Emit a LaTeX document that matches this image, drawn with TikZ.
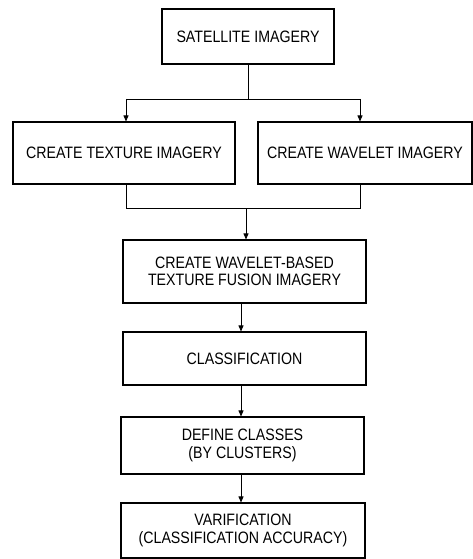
\documentclass[tikz,border=0pt]{standalone}
\usepackage{fontspec}
\setmainfont{Liberation Sans}[FakeStretch=0.86]
\usetikzlibrary{arrows.meta}
\tikzset{
  box/.style={draw=black, line width=1.1pt, inner sep=0pt, align=center,
    font=\fontsize{16.5}{17.5}\selectfont},
  conn/.style={draw=black, line width=0.8pt},
  arr/.style={conn, -{Triangle[length=6pt,width=5pt]}}
}
\begin{document}
\begin{tikzpicture}[x=1pt, y=-1pt]
\useasboundingbox (0,0) rectangle (473,559);
\node[box, minimum width=172pt, minimum height=55pt] (sat) at (248,36.5) {SATELLITE IMAGERY};
\node[box, minimum width=222pt, minimum height=62pt] (tex) at (124,153) {CREATE TEXTURE IMAGERY};
\node[box, minimum width=214pt, minimum height=62pt] (wav) at (365,153) {CREATE WAVELET IMAGERY};
\node[box, minimum width=243pt, minimum height=63pt] (fus) at (244.5,271.5) {CREATE WAVELET-BASED\\TEXTURE FUSION IMAGERY};
\node[box, minimum width=243pt, minimum height=53pt] (cls) at (244.5,358.5) {CLASSIFICATION};
\node[box, minimum width=243pt, minimum height=57pt] (def) at (242.5,445.5) {DEFINE CLASSES\\(BY CLUSTERS)};
\node[box, minimum width=244pt, minimum height=55pt] (var) at (243,530.5) {VARIFICATION\\(CLASSIFICATION ACCURACY)};
\coordinate (split) at (248,99);
\coordinate (lx) at (126,0);
\coordinate (rx) at (360,0);
\coordinate (join) at (246,208);
\coordinate (mx) at (241,0);
\draw[conn] (sat.south) -- (split);
\draw[conn] (split -| lx) -- (split -| rx);
\draw[arr] (split -| lx) -- (tex.north -| lx);
\draw[arr] (split -| rx) -- (wav.north -| rx);
\draw[conn] (tex.south -| lx) -- (join -| lx) -- (join -| rx) -- (wav.south -| rx);
\draw[arr] (join) -- (fus.north -| join);
\draw[arr] (fus.south -| mx) -- (cls.north -| mx);
\draw[arr] (cls.south -| mx) -- (def.north -| mx);
\draw[arr] (def.south -| mx) -- (var.north -| mx);
\end{tikzpicture}
\end{document}
